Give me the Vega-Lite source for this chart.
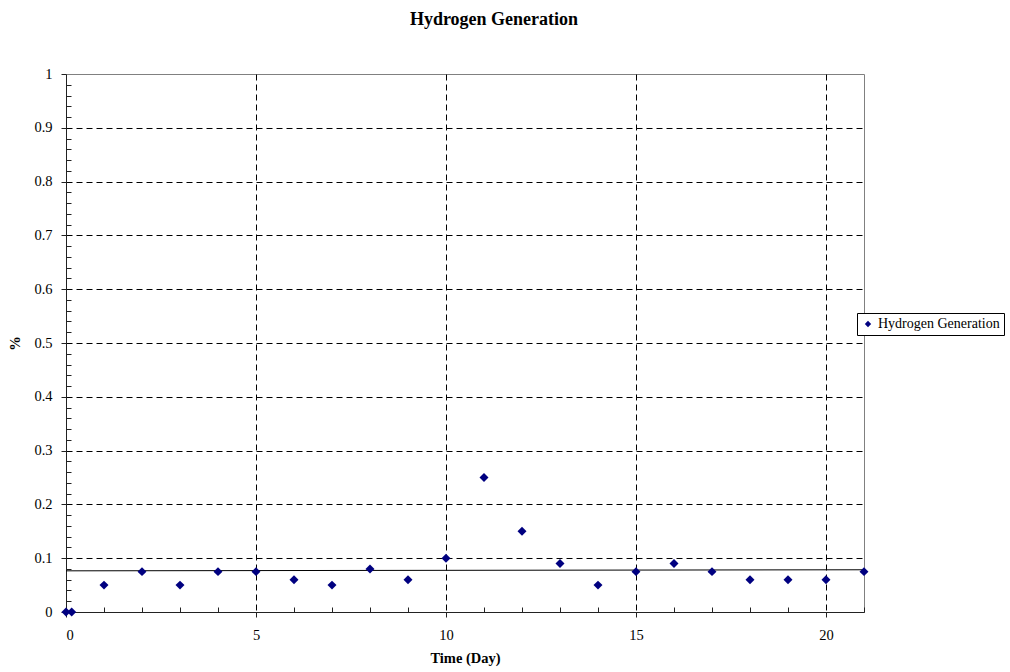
{
  "$schema": "https://vega.github.io/schema/vega-lite/v6.json",
  "width": 798,
  "height": 538,
  "autosize": "none",
  "padding": {"left": 66, "top": 74, "right": 146, "bottom": 60},
  "background": "white",
  "config": {
    "font": "Liberation Serif",
    "view": {"stroke": "#808080", "strokeWidth": 1},
    "axis": {
      "labelFont": "Liberation Serif",
      "labelFontSize": 14.5,
      "labelColor": "black",
      "titleFont": "Liberation Serif",
      "titleFontSize": 14.5,
      "titleFontWeight": "bold",
      "titleColor": "black",
      "domainColor": "#222222",
      "tickColor": "#222222",
      "gridColor": "black",
      "gridDash": [6, 4],
      "gridWidth": 1
    },
    "legend": {
      "labelFont": "Liberation Serif"
    }
  },
  "title": {
    "text": "Hydrogen Generation",
    "font": "Liberation Serif",
    "fontSize": 18,
    "fontWeight": "bold",
    "color": "black",
    "anchor": "middle",
    "frame": "group",
    "dx": 29,
    "offset": 37
  },
  "datasets": {
    "points": [
      {"day": 0, "pct": 0},
      {"day": 0.15, "pct": 0},
      {"day": 1, "pct": 0.05},
      {"day": 2, "pct": 0.075},
      {"day": 3, "pct": 0.05},
      {"day": 4, "pct": 0.075},
      {"day": 5, "pct": 0.075},
      {"day": 6, "pct": 0.06},
      {"day": 7, "pct": 0.05},
      {"day": 8, "pct": 0.08},
      {"day": 9, "pct": 0.06},
      {"day": 10, "pct": 0.1},
      {"day": 11, "pct": 0.25},
      {"day": 12, "pct": 0.15},
      {"day": 13, "pct": 0.09},
      {"day": 14, "pct": 0.05},
      {"day": 15, "pct": 0.075},
      {"day": 16, "pct": 0.09},
      {"day": 17, "pct": 0.075},
      {"day": 18, "pct": 0.06},
      {"day": 19, "pct": 0.06},
      {"day": 20, "pct": 0.06},
      {"day": 21, "pct": 0.075}
    ],
    "trend": [
      {"day": 0, "pct": 0.0765},
      {"day": 21, "pct": 0.0785}
    ]
  },
  "layer": [
    {
      "data": {"name": "points"},
      "mark": {"type": "point", "opacity": 0},
      "encoding": {
        "x": {
          "field": "day", "type": "quantitative",
          "scale": {"domain": [0, 21], "nice": false, "zero": false},
          "axis": {
            "orient": "bottom", "values": [1,2,3,4,6,7,8,9,11,12,13,14,16,17,18,19,21],
            "tickSize": -5, "labels": false, "domain": false, "grid": false, "title": null
          }
        },
        "y": {
          "field": "pct", "type": "quantitative",
          "scale": {"domain": [0, 1], "nice": false},
          "axis": {
            "orient": "left",
            "values": [0.02,0.04,0.06,0.08,0.12,0.14,0.16,0.18,0.22,0.24,0.26,0.28,0.32,0.34,0.36,0.38,0.42,0.44,0.46,0.48,0.52,0.54,0.56,0.58,0.62,0.64,0.66,0.68,0.72,0.74,0.76,0.78,0.82,0.84,0.86,0.88,0.92,0.94,0.96,0.98],
            "tickSize": -5, "labels": false, "domain": false, "grid": false, "title": null
          }
        }
      }
    },
    {
      "data": {"name": "trend"},
      "mark": {"type": "line", "color": "black", "strokeWidth": 1},
      "encoding": {
        "x": {"field": "day", "type": "quantitative",
          "axis": {"orient": "bottom", "values": [5, 10, 15, 20], "grid": true, "ticks": false, "labels": false, "domain": false, "title": null}},
        "y": {"field": "pct", "type": "quantitative",
          "axis": {"orient": "left", "values": [0.1, 0.2, 0.3, 0.4, 0.5, 0.6, 0.7, 0.8, 0.9], "grid": true, "ticks": false, "labels": false, "domain": false, "title": null}}
      }
    },
    {
      "data": {"name": "points"},
      "mark": {"type": "point", "shape": "diamond", "filled": true, "size": 80, "opacity": 1},
      "encoding": {
        "x": {
          "field": "day", "type": "quantitative",
          "axis": {
            "orient": "bottom", "values": [0, 5, 10, 15, 20],
            "tickSize": 5, "labelPadding": 11, "grid": false,
            "title": "Time (Day)", "titlePadding": 10
          }
        },
        "y": {
          "field": "pct", "type": "quantitative",
          "axis": {
            "orient": "left", "values": [0, 0.1, 0.2, 0.3, 0.4, 0.5, 0.6, 0.7, 0.8, 0.9, 1],
            "format": "~g", "tickSize": 5, "labelPadding": 9, "grid": false,
            "title": "%", "titlePadding": 11
          }
        },
        "color": {
          "datum": "Hydrogen Generation",
          "scale": {"range": ["#000080"]},
          "legend": {
            "title": null,
            "orient": "none",
            "legendX": 791,
            "legendY": 239,
            "symbolType": "diamond",
            "symbolSize": 40,
            "labelFont": "Liberation Serif",
            "labelFontSize": 14,
            "labelColor": "black",
            "labelOffset": 3,
            "strokeColor": "black",
            "fillColor": "white",
            "padding": 4
          }
        }
      }
    }
  ],
  "resolve": {"axis": {"x": "independent", "y": "independent"}}
}
